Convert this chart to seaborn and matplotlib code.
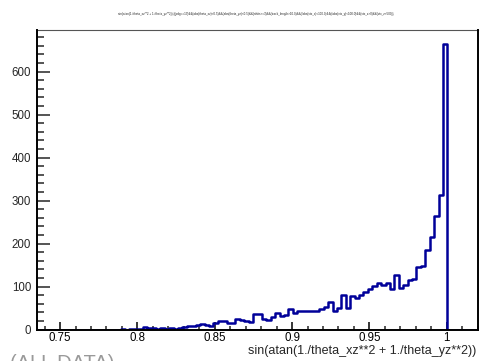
import numpy as np
import pandas as pd
import matplotlib
matplotlib.use("Agg")
import matplotlib.pyplot as plt
import seaborn as sns
from matplotlib.ticker import MultipleLocator, FuncFormatter

# Histogram definition: 100 equal bins over the drawn x range
x_min, x_max = 0.7349, 1.0204
n_bins = 100

# Entries per bin, bins 0..99
counts_low = [0] * 18 + [0, 1, 0, 1, 1]                                   # bins 0-22
counts_mid1 = [2, 5, 3, 3, 2, 4, 2, 3, 2, 3, 6, 8, 8, 10, 12, 10, 8]       # bins 23-39
counts_mid2 = [16, 19, 20, 15, 15, 24, 22, 19, 17, 36, 37, 24, 22, 29,
               38, 32, 33, 47, 39, 42, 42, 44, 42, 43]                     # bins 40-63
counts_high = [47, 52, 63, 42, 49, 81, 49, 77, 73, 81, 88, 94, 102, 108,
               104, 109, 95, 127, 97, 104, 116, 118, 146, 147, 184, 216,
               263, 314, 665]                                              # bins 64-92
counts_tail = [0] * 7                                                      # bins 93-99
counts = counts_low + counts_mid1 + counts_mid2 + counts_high + counts_tail

x_ticks = [0.75, 0.8, 0.85, 0.9, 0.95, 1.0]
y_ticks = [0, 100, 200, 300, 400, 500, 600]

x_title = "sin(atan(1./theta_xz**2 + 1./theta_yz**2))"
plot_title = ("sin(atan(1./theta_xz**2 + 1./theta_yz**2)) {(pdg==13)&&(abs(theta_xz)<0.5)&&(abs(theta_yz)<0.5)"
              "&&(nhits>=3)&&(track_length>10.0)&&(fabs(vtx_x)<100.0)&&(fabs(vtx_y)<100.0)&&(vtx_z>0)&&(vtx_z<500)}")

edges = np.linspace(x_min, x_max, n_bins + 1)
centers = 0.5 * (edges[:-1] + edges[1:])
df = pd.DataFrame({"value": centers, "entries": np.asarray(counts, dtype=float)})

sns.set_theme(style="white")
plt.rcParams["font.family"] = ["Liberation Sans", "DejaVu Sans"]

fig = plt.figure(figsize=(4.94, 3.61), dpi=100)
fig.patch.set_facecolor("white")
ax = fig.add_axes([36.7 / 494, 1 - 329.5 / 361, (478.3 - 36.7) / 494, (329.5 - 29.5) / 361])

sns.histplot(data=df, x="value", weights="entries", bins=n_bins, binrange=(x_min, x_max),
             element="step", fill=False, color="#000099", linewidth=1.8, ax=ax)

ax.set_xlim(x_min, x_max)
ax.set_ylim(0, 698)
ax.set_xlabel("")
ax.set_ylabel("")

ax.set_xticks(x_ticks)
ax.set_yticks(y_ticks)
ax.xaxis.set_minor_locator(MultipleLocator(0.01))
ax.yaxis.set_minor_locator(MultipleLocator(20))
ax.xaxis.set_major_formatter(FuncFormatter(lambda v, p: "%g" % round(v, 3)))
ax.yaxis.set_major_formatter(FuncFormatter(lambda v, p: "%d" % v))

ax.tick_params(axis="x", which="major", direction="in", length=5.6, width=1.1,
               labelsize=8.3, pad=1.8, bottom=True, top=False, colors="black")
ax.tick_params(axis="x", which="minor", direction="in", length=3.0, width=1.1,
               bottom=True, top=False)
ax.tick_params(axis="y", which="major", direction="in", length=9.0, width=1.1,
               labelsize=8.3, pad=4.0, left=True, right=False)
ax.tick_params(axis="y", which="minor", direction="in", length=4.8, width=1.1,
               left=True, right=False)

for side in ["left", "bottom", "right"]:
    ax.spines[side].set_visible(True)
    ax.spines[side].set_color("black")
    ax.spines[side].set_linewidth(1.4)
    ax.spines[side].set_zorder(5)
ax.spines["top"].set_visible(True)
ax.spines["top"].set_color("#555555")
ax.spines["top"].set_linewidth(0.8)

fig.text(476 / 494, 1 - 350.8 / 361, x_title, ha="right", va="center", fontsize=9.0)
fig.text(256 / 494, 1 - 14 / 361, plot_title, ha="center", va="center", fontsize=2.2)
fig.text(10 / 494, 1 - 363.5 / 361, "(ALL DATA)", ha="left", va="center",
         fontsize=14.5, color="#9a9a9a")

fig.savefig("out.png", dpi=100, facecolor="white")
